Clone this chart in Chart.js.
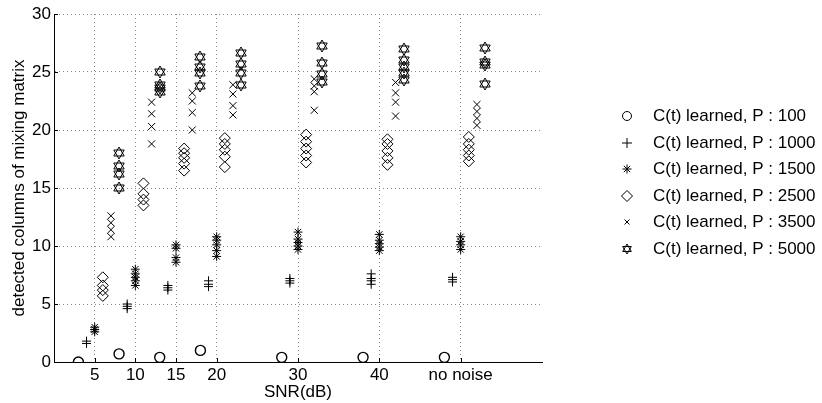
<!DOCTYPE html>
<html>
<head>
<meta charset="utf-8">
<script src="https://cdn.jsdelivr.net/npm/chart.js@4.4.0/dist/chart.umd.min.js"></script>
<style>
  html, body { margin: 0; padding: 0; background: #fff; }
</style>
</head>
<body>
<canvas id="grafico" width="822" height="403"></canvas>
<script>
// Eixo SNR ("no noise" fica na posição 50)
const snrValores = [5, 10, 15, 20, 30, 40, 50];
const snrRotulos = ['5', '10', '15', '20', '30', '40', 'no noise'];

const legendas = [
  'C(t) learned, P : 100',
  'C(t) learned, P : 1000',
  'C(t) learned, P : 1500',
  'C(t) learned, P : 2500',
  'C(t) learned, P : 3500',
  'C(t) learned, P : 5000'
];

// deslocamento de cada série em relação ao valor de SNR
const deslocamento = [-2, -1, 0, 1, 2, 3];

// valores, um grupo por SNR
const p100  = [[0.0], [0.7], [0.4], [1.0], [0.4], [0.4], [0.4]];
const p1000 = [[1.6, 1.8], [4.6, 4.8, 5.0], [6.2, 6.4, 6.6], [6.5, 6.7, 7.0], [6.8, 7.0, 7.2], [6.7, 7.0, 7.2, 7.6], [6.9, 7.1, 7.3]];
const p1500 = [[2.6, 2.8, 3.0], [6.6, 7.0, 7.3, 7.6, 8.0], [8.6, 9.0, 9.8, 10.1], [9.1, 9.6, 10.1, 10.5, 10.8], [9.7, 10.0, 10.3, 10.6, 11.2], [9.6, 9.9, 10.2, 10.5, 11.0], [9.7, 10.1, 10.4, 10.8]];
const p2500 = [[5.7, 6.2, 6.6, 7.3], [13.5, 14.0, 14.5, 15.4], [16.5, 17.1, 17.6, 18.0, 18.4], [16.8, 17.7, 18.3, 18.8, 19.3], [17.2, 17.8, 18.4, 19.0, 19.6], [17.0, 17.6, 18.2, 18.8, 19.2], [17.3, 17.8, 18.3, 18.8, 19.4]];
const p3500 = [[10.8, 11.4, 12.0, 12.6], [18.8, 20.3, 21.4, 22.4], [20.0, 21.5, 22.5, 23.2], [21.3, 22.1, 23.1, 23.9], [21.7, 23.3, 23.8, 24.4], [21.2, 22.4, 23.2, 24.1], [20.4, 21.0, 21.6, 22.2]];
const p5000 = [[15.0, 16.2, 16.9, 18.0], [23.3, 23.6, 23.9, 25.0], [23.8, 24.9, 25.4, 26.3], [23.9, 24.9, 25.7, 26.6], [24.1, 24.8, 25.8, 27.2], [24.3, 24.9, 25.4, 26.0, 27.0], [24.0, 25.6, 25.9, 27.1]];

const series = [p100, p1000, p1500, p2500, p3500, p5000];

const fonte = '"Liberation Sans", Arial, Helvetica, sans-serif';

// hexagrama (estrela de seis pontas) desenhado num canvas auxiliar
function criarHexagrama(r) {
  const tam = Math.ceil(r * 2 + 4);
  const c = document.createElement('canvas');
  c.width = tam;
  c.height = tam;
  const g = c.getContext('2d');
  const cx = tam / 2, cy = tam / 2;
  g.strokeStyle = '#000';
  g.lineWidth = 1;
  [-90, 90].forEach(a0 => {
    g.beginPath();
    for (let k = 0; k < 3; k++) {
      const a = (a0 + k * 120) * Math.PI / 180;
      const px = cx + r * Math.cos(a), py = cy + r * Math.sin(a);
      if (k === 0) g.moveTo(px, py); else g.lineTo(px, py);
    }
    g.closePath();
    g.stroke();
  });
  return c;
}

const hexGrande = criarHexagrama(6);
const hexPequeno = criarHexagrama(5);

const estilos = ['circle', 'cross', 'star', 'rectRot', 'crossRot', hexGrande];
const raios = [5, 4.5, 4.5, 5.5, 5, 6];
const espessuras = [1.4, 1, 1, 1, 1, 1];
const estilosLegenda = ['circle', 'cross', 'star', 'rectRot', 'crossRot', hexPequeno];
const raiosLegenda = [4.5, 5, 4.5, 5.5, 3.5, 5];

function montarPontos(grupos, desloc) {
  const pontos = [];
  grupos.forEach((vals, i) => {
    vals.forEach(v => pontos.push({ x: snrValores[i] + desloc, y: v }));
  });
  return pontos;
}

const datasets = series.map((grupos, i) => ({
  label: legendas[i],
  data: montarPontos(grupos, deslocamento[i]),
  pointStyle: estilos[i],
  pointRadius: raios[i],
  pointHoverRadius: raios[i],
  borderColor: '#000',
  backgroundColor: 'rgba(0,0,0,0)',
  borderWidth: espessuras[i],
  showLine: false
}));

// legenda à direita + tracinhos internos dos eixos
const legendaLateral = {
  id: 'legendaLateral',
  beforeDatasetsDraw(chart) {
    chart.ctx.save();
    chart.ctx.imageSmoothingEnabled = false; // estrelas nítidas
  },
  afterDatasetsDraw(chart) {
    chart.ctx.restore();
  },
  afterDraw(chart) {
    const ctx = chart.ctx;
    const area = chart.chartArea;
    ctx.save();

    ctx.strokeStyle = '#000';
    ctx.lineWidth = 1;
    chart.scales.y.ticks.forEach(t => {
      const py = Math.round(chart.scales.y.getPixelForValue(t.value)) + 0.5;
      ctx.beginPath();
      ctx.moveTo(area.left, py);
      ctx.lineTo(area.left + 4, py);
      ctx.stroke();
    });
    chart.scales.x.ticks.forEach(t => {
      const px = Math.round(chart.scales.x.getPixelForValue(t.value)) + 0.5;
      ctx.beginPath();
      ctx.moveTo(px, area.bottom);
      ctx.lineTo(px, area.bottom - 4);
      ctx.stroke();
    });

    ctx.imageSmoothingEnabled = false;
    ctx.font = '17px ' + fonte;
    ctx.textBaseline = 'middle';
    ctx.textAlign = 'left';
    chart.data.datasets.forEach((ds, i) => {
      const y = Math.round(116 + i * 26.5);
      ctx.strokeStyle = '#000';
      ctx.fillStyle = 'rgba(0,0,0,0)';
      ctx.lineWidth = 1;
      Chart.helpers.drawPoint(ctx, {
        pointStyle: estilosLegenda[i],
        radius: raiosLegenda[i],
        rotation: 0,
        borderWidth: 1
      }, 627, y);
      ctx.fillStyle = '#000';
      ctx.fillText(ds.label, 653, y);
    });
    ctx.restore();
  }
};

const corGrade = ctx => (ctx.tick && ctx.tick.value === 0) ? 'rgba(0,0,0,0)' : '#888';

const ctxGrafico = document.getElementById('grafico').getContext('2d');
const meuGrafico = new Chart(ctxGrafico, {
  type: 'scatter',
  data: { datasets: datasets },
  options: {
    responsive: false,
    animation: false,
    layout: {
      padding: { top: 14, right: 280, bottom: 0, left: 0 }
    },
    plugins: {
      legend: { display: false },
      tooltip: { enabled: false }
    },
    scales: {
      x: {
        type: 'linear',
        min: 0,
        max: 60,
        afterBuildTicks: s => { s.ticks = snrValores.map(v => ({ value: v })); },
        afterFit: s => { s.height = 41; },
        ticks: {
          autoSkip: false,
          maxRotation: 0,
          padding: 3,
          color: '#000',
          font: { family: fonte, size: 17 },
          callback: function (valor) {
            const idx = snrValores.indexOf(valor);
            return idx >= 0 ? snrRotulos[idx] : '';
          }
        },
        grid: { color: '#888', lineWidth: 1, drawTicks: false },
        border: { display: true, color: '#000', width: 1, dash: [1, 3] },
        title: {
          display: true,
          text: 'SNR(dB)',
          color: '#000',
          font: { family: fonte, size: 17 },
          padding: { top: 0, bottom: 0 }
        }
      },
      y: {
        min: 0,
        max: 30,
        afterFit: s => { s.width = 54; },
        ticks: {
          stepSize: 5,
          padding: 3,
          color: '#000',
          font: { family: fonte, size: 17 }
        },
        grid: { color: corGrade, lineWidth: 1, drawTicks: false },
        border: { display: true, color: '#000', width: 1, dash: [1, 3] },
        title: {
          display: true,
          text: 'detected columns of mixing matrix',
          color: '#000',
          font: { family: fonte, size: 17 },
          padding: { top: 9, bottom: 0 }
        }
      }
    }
  },
  plugins: [legendaLateral]
});
</script>
</body>
</html>
